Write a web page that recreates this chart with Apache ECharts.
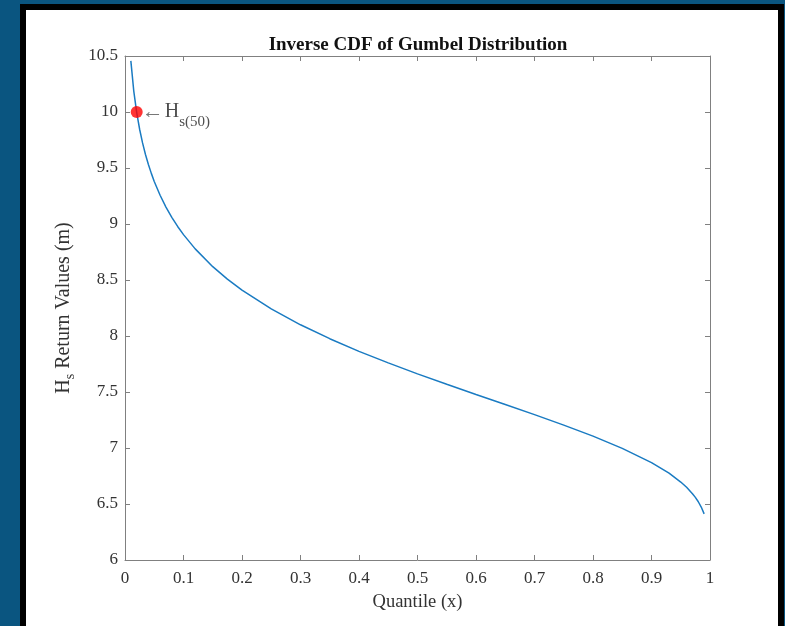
<!DOCTYPE html>
<html>
<head>
<meta charset="utf-8">
<script src="https://cdn.jsdelivr.net/npm/echarts@6/dist/echarts.min.js"></script>
<style>
  html, body { margin:0; padding:0; width:785px; height:626px; overflow:hidden; background:#0a5580; }
  #frame { position:absolute; left:20px; top:4px; width:752px; height:640px; border:6px solid #000; background:#fff; }
  #chart { position:absolute; left:0; top:0; width:785px; height:626px; }
</style>
</head>
<body>
<div id="frame"></div>
<div id="chart"></div>
<script>
// Quantile (x) values and read-off return values (m)
const quantiles = [0.01, 0.015, 0.02, 0.025, 0.03, 0.035, 0.04, 0.045, 0.05, 0.06, 0.07, 0.08, 0.09, 0.10, 0.12, 0.15, 0.175, 0.20, 0.25, 0.30, 0.35, 0.40, 0.45, 0.50, 0.55, 0.60, 0.65, 0.70, 0.75, 0.80, 0.85, 0.90, 0.93, 0.95, 0.96, 0.97, 0.975, 0.98, 0.985, 0.99];
const returnValues = [10.456, 10.187, 9.995, 9.846, 9.724, 9.621, 9.531, 9.452, 9.380, 9.257, 9.151, 9.060, 8.978, 8.905, 8.778, 8.619, 8.508, 8.410, 8.242, 8.100, 7.976, 7.863, 7.760, 7.662, 7.569, 7.478, 7.388, 7.298, 7.204, 7.106, 6.997, 6.870, 6.775, 6.696, 6.649, 6.592, 6.559, 6.520, 6.473, 6.412];
const hs50Point = [0.02, 10.0];
const xTicks = {min: 0, max: 1, step: 0.1};
const yTicks = {min: 6, max: 10.5, step: 0.5};

const serif = "'Liberation Serif', 'Times New Roman', serif";
const axisGray = '#808080';
const labelGray = '#333333';

const chart = echarts.init(document.getElementById('chart'), null, {renderer: 'canvas'});

function makeAxis(base, extra) {
  return Object.assign({
    type: 'value',
    axisLine: {show: true, onZero: false, lineStyle: {color: axisGray, width: 1}},
    axisTick: {show: true, inside: true, length: 5, lineStyle: {color: axisGray}},
    splitLine: {show: false},
    axisLabel: {show: true, color: labelGray, fontFamily: serif, fontSize: 17},
  }, base, extra);
}

const option = {
  backgroundColor: 'transparent',
  animation: false,
  title: {
    text: 'Inverse CDF of Gumbel Distribution',
    left: 413, top: 31, textAlign: 'center',
    textStyle: {fontFamily: serif, fontWeight: 'bold', fontSize: 19, color: '#111'}
  },
  grid: {left: 125, right: 75, top: 56, bottom: 66},
  xAxis: [
    makeAxis({min: xTicks.min, max: xTicks.max, interval: xTicks.step, position: 'bottom'}, {
      name: 'Quantile (x)', nameLocation: 'middle', nameGap: 33,
      nameTextStyle: {fontFamily: serif, fontSize: 18.5, color: labelGray},
      axisLabel: {show: true, color: labelGray, fontFamily: serif, fontSize: 17, margin: 10}
    }),
    makeAxis({min: xTicks.min, max: xTicks.max, interval: xTicks.step, position: 'top'}, {
      axisLabel: {show: false}
    })
  ],
  yAxis: [
    makeAxis({min: yTicks.min, max: yTicks.max, interval: yTicks.step, position: 'left'}, {
      name: '{h|H}{s|s}{t| Return Values (m)}', nameLocation: 'middle', nameGap: 40, nameRotate: 90,
      nameTextStyle: {
        fontFamily: serif, color: labelGray,
        rich: {
          h: {fontFamily: serif, fontSize: 20, color: labelGray},
          s: {fontFamily: serif, fontSize: 14, color: labelGray, padding: [14, 0, 0, 0]},
          t: {fontFamily: serif, fontSize: 20, color: labelGray}
        }
      },
      axisLabel: {show: true, color: labelGray, fontFamily: serif, fontSize: 17, margin: 7}
    }),
    makeAxis({min: yTicks.min, max: yTicks.max, interval: yTicks.step, position: 'right'}, {
      axisLabel: {show: false}
    })
  ],
  series: [
    {
      type: 'line',
      xAxisIndex: 0, yAxisIndex: 0,
      data: quantiles.map((q, i) => [q, returnValues[i]]),
      showSymbol: false,
      smooth: false,
      lineStyle: {color: '#1a7bc2', width: 1.5},
      z: 2
    },
    {
      type: 'scatter',
      xAxisIndex: 0, yAxisIndex: 0,
      data: [hs50Point],
      symbol: 'circle',
      symbolSize: 12,
      itemStyle: {color: '#ff0000'},
      z: 3,
      label: {
        show: true, position: 'right', distance: -1,
        formatter: '{a|\u2190}{h|H}{s|s(50)}',
        rich: {
          a: {fontFamily: serif, fontSize: 22, color: '#555', padding: [0, 1, 0, 0]},
          h: {fontFamily: serif, fontSize: 20, color: '#222'},
          s: {fontFamily: serif, fontSize: 15, color: '#222', padding: [20, 0, 0, 0]}
        }
      }
    }
  ]
};
chart.setOption(option);
</script>
</body>
</html>
